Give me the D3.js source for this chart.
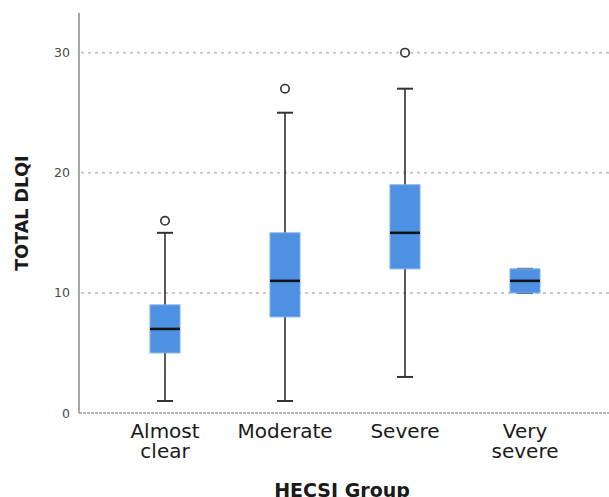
<!DOCTYPE html>
<html>
<head>
<meta charset="utf-8">
<title>TOTAL DLQI by HECSI Group</title>
<script src="https://cdn.jsdelivr.net/npm/d3@7"></script>
<style>
    body { margin: 0; background: #fff; }
    text { font-family: "DejaVu Sans", sans-serif; }
</style>
</head>
<body>
<script>
    // data
    var groups   = [ ['Almost', 'clear'], ['Moderate'], ['Severe'], ['Very', 'severe'] ];
    var whiskLow = [ 1, 1, 3, 10 ];
    var q1       = [ 5, 8, 12, 10 ];
    var median   = [ 7, 11, 15, 11 ];
    var q3       = [ 9, 15, 19, 12 ];
    var whiskHi  = [ 15, 25, 27, 12 ];
    var outliers = [ [16], [27], [30], [] ];
    var yTicks   = [ 0, 10, 20, 30 ];

    var w = 609, h = 497;
    var plotLeft = 79, plotTop = 13, plotBottom = 413, plotRight = 609;

    var svg = d3.select('body').append('svg')
            .attr('width', w)
            .attr('height', h);

    var y = d3.scaleLinear().domain([0, 33.3]).range([plotBottom, plotTop]);
    var x = d3.scaleBand()
            .domain(d3.range(groups.length))
            .range([105, 585]);

    // gridlines
    svg.selectAll('line.grid')
            .data(yTicks.filter(function(d) { return d > 0; }))
            .enter()
            .append('line')
            .attr('class', 'grid')
            .attr('x1', plotLeft + 2)
            .attr('x2', plotRight)
            .attr('y1', function(d) { return y(d); })
            .attr('y2', function(d) { return y(d); })
            .attr('stroke', '#c8c8c8')
            .attr('stroke-width', 2)
            .attr('stroke-dasharray', '3,4');

    // y axis
    var yAxis = d3.axisLeft(y).tickValues(yTicks).tickSize(0).tickPadding(9);
    var gy = svg.append('g').attr('transform', 'translate(' + plotLeft + ',0)').call(yAxis);
    gy.select('.domain').remove();
    gy.selectAll('text')
            .attr('font-size', 12.5)
            .attr('fill', '#4a4a4a')
            .attr('font-family', 'DejaVu Sans');

    svg.append('line')
            .attr('x1', plotLeft).attr('x2', plotLeft)
            .attr('y1', plotTop).attr('y2', plotBottom)
            .attr('stroke', '#8a8a8a')
            .attr('stroke-width', 1.5);

    svg.append('line')
            .attr('x1', plotLeft).attr('x2', plotRight)
            .attr('y1', plotBottom).attr('y2', plotBottom)
            .attr('stroke', '#9a9a9a')
            .attr('stroke-width', 1.5)
            .attr('stroke-dasharray', '3,1');

    // boxes
    var boxW = 30, capW = 16;
    var g = svg.selectAll('g.box')
            .data(groups)
            .enter()
            .append('g')
            .attr('class', 'box')
            .attr('transform', function(d, i) { return 'translate(' + (x(i) + x.bandwidth() / 2) + ',0)'; });

    g.append('line')
            .attr('y1', function(d, i) { return y(whiskLow[i]); })
            .attr('y2', function(d, i) { return y(whiskHi[i]); })
            .attr('stroke', '#222')
            .attr('stroke-width', 1.5);

    g.selectAll('line.cap')
            .data(function(d, i) { return [whiskLow[i], whiskHi[i]]; })
            .enter()
            .append('line')
            .attr('class', 'cap')
            .attr('x1', -capW / 2).attr('x2', capW / 2)
            .attr('y1', function(v) { return y(v); })
            .attr('y2', function(v) { return y(v); })
            .attr('stroke', '#333')
            .attr('stroke-width', 2);

    g.append('rect')
            .attr('x', -boxW / 2)
            .attr('width', boxW)
            .attr('y', function(d, i) { return y(q3[i]); })
            .attr('height', function(d, i) { return y(q1[i]) - y(q3[i]); })
            .attr('fill', '#4e90e2')
            .attr('stroke', '#7fb0ee')
            .attr('stroke-width', 1);

    g.append('line')
            .attr('x1', -boxW / 2).attr('x2', boxW / 2)
            .attr('y1', function(d, i) { return y(median[i]); })
            .attr('y2', function(d, i) { return y(median[i]); })
            .attr('stroke', '#111')
            .attr('stroke-width', 2.5);

    g.selectAll('circle')
            .data(function(d, i) { return outliers[i]; })
            .enter()
            .append('circle')
            .attr('cy', function(v) { return y(v); })
            .attr('r', 4.2)
            .attr('fill', '#fff')
            .attr('stroke', '#333')
            .attr('stroke-width', 1.6);

    // category labels
    g.append('text')
            .attr('text-anchor', 'middle')
            .attr('font-size', 20)
            .attr('fill', '#1a1a1a')
            .selectAll('tspan')
            .data(function(d) { return d; })
            .enter()
            .append('tspan')
            .attr('x', 0)
            .attr('y', function(d, j) { return 438 + j * 20; })
            .text(function(d) { return d; });

    // axis titles
    svg.append('text')
            .attr('x', 342)
            .attr('y', 497)
            .attr('text-anchor', 'middle')
            .attr('font-size', 19)
            .attr('font-weight', 'bold')
            .attr('fill', '#1a1a1a')
            .text('HECSI Group');

    svg.append('text')
            .attr('transform', 'translate(28,213) rotate(-90)')
            .attr('text-anchor', 'middle')
            .attr('font-size', 17.5)
            .attr('font-weight', 'bold')
            .attr('fill', '#1a1a1a')
            .text('TOTAL DLQI');
</script>
</body>
</html>
